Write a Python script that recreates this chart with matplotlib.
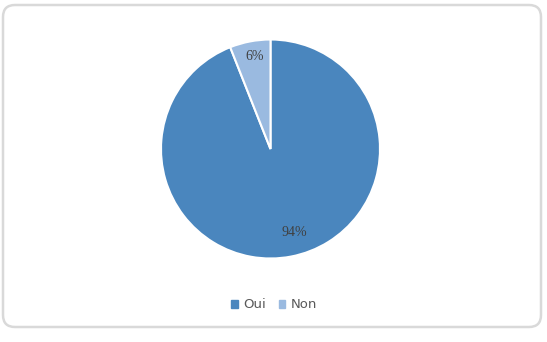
import matplotlib
matplotlib.use("Agg")
import matplotlib.pyplot as plt
from matplotlib.patches import FancyBboxPatch

categories = ["Oui", "Non"]
values = [94, 6]
labels = ["94%", "6%"]
colors = ["#4A86BE", "#9ABAE0"]

W, H = 547, 342
fig = plt.figure(figsize=(W/100, H/100), dpi=100)

# rounded frame on a background axes in pixel units
bg = fig.add_axes([0, 0, 1, 1], zorder=-1)
bg.set_xlim(0, W); bg.set_ylim(H, 0); bg.axis("off")
bg.add_patch(FancyBboxPatch((3, 5), 538, 322,
                            boxstyle="round,pad=0,rounding_size=12",
                            facecolor="white", edgecolor="#D9D9D9", linewidth=1.8))

cx, cy, r = 270.5, 149, 109.5
ax = fig.add_axes([(cx - r)/W, (H - cy - r)/H, 2*r/W, 2*r/H])
wedges, _ = ax.pie(values, colors=colors, startangle=90, counterclock=False,
                   wedgeprops=dict(edgecolor="white", linewidth=1.5))
ax.set_xlim(-1, 1); ax.set_ylim(-1, 1)
ax.set_aspect("equal")

# percentage labels
lab_pos = [(294, 233), (255, 57)]
for (px, py), t in zip(lab_pos, labels):
    fig.text(px/W, 1 - py/H, t, ha="center", va="center",
             fontsize=10, color="#404040", family="Liberation Serif")

handles = [plt.Rectangle((0, 0), 1, 1, color=c) for c in colors]
fig.legend(handles, categories, loc="center", bbox_to_anchor=(274/W, 1 - 305/H),
           ncol=2, frameon=False, fontsize=9.5, handlelength=0.5, handleheight=0.5,
           handletextpad=0.4, columnspacing=1.0, labelcolor="#595959")

fig.savefig("out.png", dpi=100)
